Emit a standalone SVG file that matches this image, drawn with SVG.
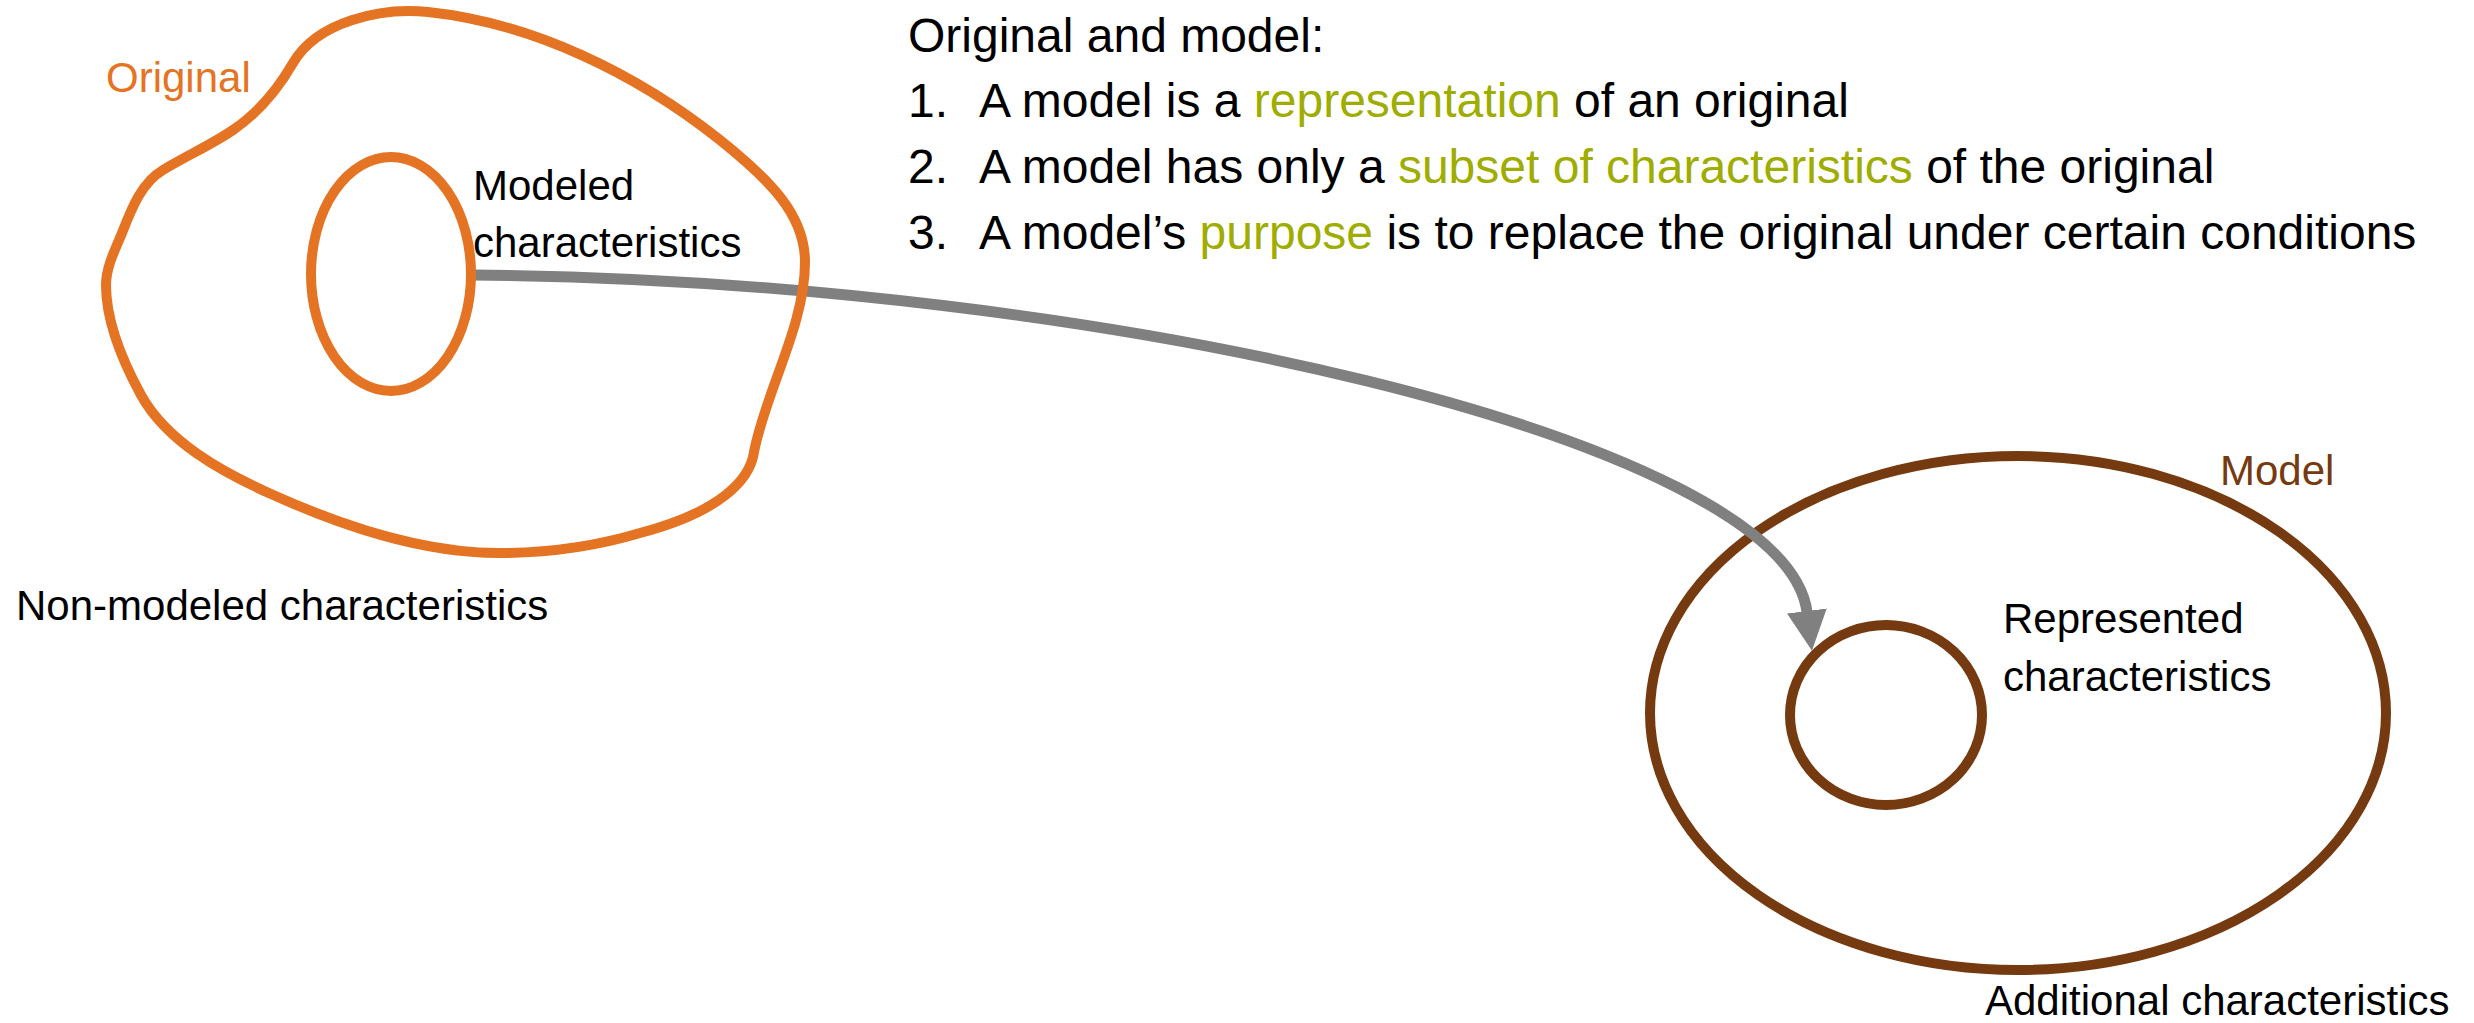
<svg xmlns="http://www.w3.org/2000/svg" width="2474" height="1023" viewBox="0 0 2474 1023">
<style>
  text { font-family: "Liberation Sans", Arial, sans-serif; fill: #000; }
  .lbl { font-size: 42px; }
  .top { font-size: 48px; }
  .hl { fill: #9EAD00; }
  .orange { fill: none; stroke: #E57324; stroke-width: 10; }
  .brown { fill: none; stroke: #763A11; stroke-width: 10; }
  .conn { fill: none; stroke: #808080; stroke-width: 11; }
</style>
<defs>
  <marker id="arrow" markerUnits="userSpaceOnUse" viewBox="0 0 40 40" refX="1" refY="20" markerWidth="40" markerHeight="40" orient="auto">
    <path d="M0,0 L40,20 L0,40 z" fill="#808080"/>
  </marker>
</defs>

<g id="model">
  <ellipse class="brown" cx="2018" cy="713" rx="368" ry="257"/>
  <text class="lbl" x="2220" y="485" style="fill:#763A11">Model</text>
  <text class="lbl" x="1985" y="1015">Additional characteristics</text>
</g>

<g id="connectors">
  <path class="conn" d="M473 275 C1100 280 1785 440 1807 612" marker-end="url(#arrow)"/>
</g>

<g id="original">
  <path class="orange" d="M428 12 C533 23 637 74 720 140 C770 180 805 215 805 262 C805 326 766 390 754 452 C750 480 720 512 640 533 C600 545 550 553 499 553 C421 553 342 526 271 494 C222 472 167 442 141 395 C123 362 106 323 106 285 C106 267 115 250 122 233 C131 210 141 183 163 170 C186 156 211 145 233 130 C258 113 278 89 293 63 C317 22 380 7 428 12 Z"/>
  <text class="lbl" x="106" y="92" style="fill:#E57324">Original</text>
  <text class="lbl" x="16" y="620">Non-modeled characteristics</text>
</g>

<g id="modeled">
  <ellipse class="orange" cx="391" cy="274" rx="80" ry="117"/>
  <text class="lbl" x="473" y="200">Modeled</text>
  <text class="lbl" x="473" y="257">characteristics</text>
</g>

<g id="represented">
  <ellipse class="brown" cx="1886" cy="715" rx="96" ry="90"/>
  <text class="lbl" x="2003" y="633">Represented</text>
  <text class="lbl" x="2003" y="691">characteristics</text>
</g>

<g id="definition">
  <text class="top" x="908" y="52">Original and model:</text>
  <text class="top" x="908" y="117">1.</text>
  <text class="top" x="979" y="117">A model is a <tspan class="hl">representation</tspan> of an original</text>
  <text class="top" x="908" y="183">2.</text>
  <text class="top" x="979" y="183">A model has only a <tspan class="hl">subset of characteristics</tspan> of the original</text>
  <text class="top" x="908" y="249">3.</text>
  <text class="top" x="979" y="249">A model’s <tspan class="hl">purpose</tspan> is to replace the original under certain conditions</text>
</g>
</svg>
